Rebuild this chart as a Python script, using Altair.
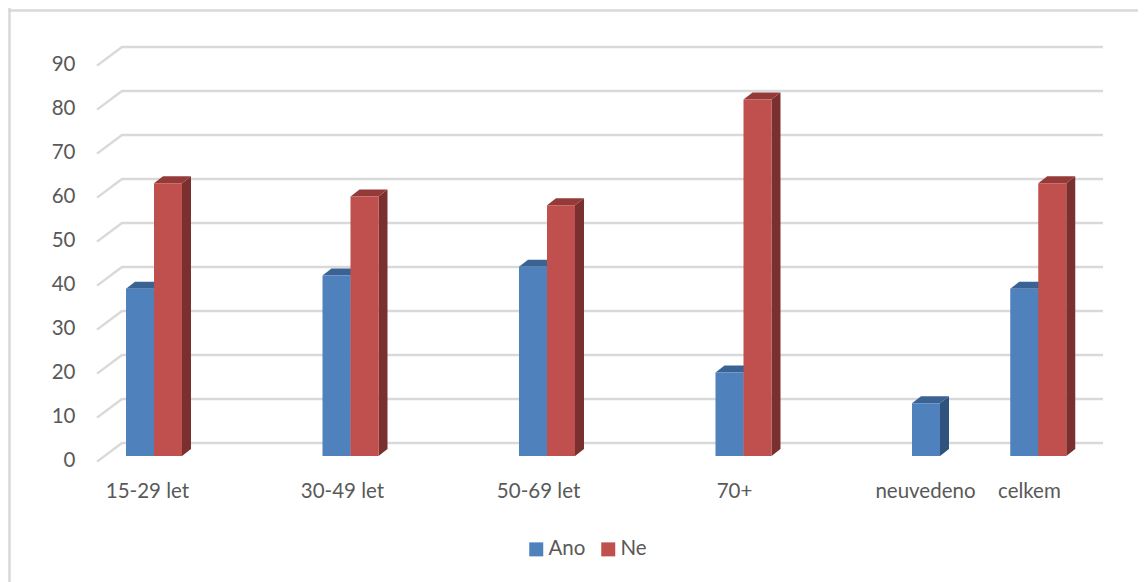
import json
import altair as alt
import pandas as pd

categories = ["15-29 let", "30-49 let", "50-69 let", "70+", "neuvedeno", "celkem"]
slots = [0, 1, 2, 3, 4, 4.5]
label_slots = [0.107, 1.099, 2.097, 3.094, 4.066, 4.595]
series = ["Ano", "Ne"]
ano = [38, 41, 43, 19, 12, 38]
ne = [62, 59, 57, 81, None, 62]
y_ticks = [0, 10, 20, 30, 40, 50, 60, 70, 80, 90]

front = ["#4F81BD", "#C0504D"]
side = ["#30527E", "#7A302E"]
top = ["#3A6292", "#943B39"]
GRID = "#D9D9D9"
TEXT = "#595959"
FONT = "Lato"
FS = 20.5

W, H = 1130, 574
SLOT_PX = 196.5
X0 = 118.0      # view x of slot 0 left edge
Y0 = 448.0      # view y of value 0, front of the bars
PX_V = 4.4      # px per unit
BW = 28 / SLOT_PX
DX = 9 / SLOT_PX
DV = 7 / PX_V
# floor/wall
WALL_L, WALL_R = (122 - 8 - X0) / SLOT_PX, (1103 - 8 - X0) / SLOT_PX
FRONT_L = (97 - 8 - X0) / SLOT_PX
WALL_DV = 13 / PX_V
FRONT_DV = -5.6 / PX_V

x_scale = alt.Scale(domain=[-X0 / SLOT_PX, (W - X0) / SLOT_PX], range=[0, W], nice=False, zero=False)
y_scale = alt.Scale(domain=[(Y0 - H) / PX_V, Y0 / PX_V], range=[H, 0], nice=False, zero=False)

rows, side_rows, top_rows = [], [], []
for si, (name, vals) in enumerate(zip(series, [ano, ne])):
    for cat, s, v in zip(categories, slots, vals):
        if v is None:
            continue
        l = s + si * BW
        r = l + BW
        bid = f"{name}-{cat}"
        rows.append(dict(series=name, category=cat, l=l, r=r, v=v, base=0, order=si))
        side_rows.append(dict(series=name, id=bid, x=r, y=0, y2=v, order=si))
        side_rows.append(dict(series=name, id=bid, x=r + DX, y=DV, y2=v + DV, order=si))
        top_rows.append(dict(series=name, id=bid, y=v, x=l, x2=r, order=si))
        top_rows.append(dict(series=name, id=bid, y=v + DV, x=l + DX, x2=r + DX, order=si))
bars, sides, tops = map(pd.DataFrame, (rows, side_rows, top_rows))

grid_rows = []
for t in y_ticks:
    grid_rows += [
        dict(tick=t, x=FRONT_L, y=t + FRONT_DV, o=0),
        dict(tick=t, x=WALL_L, y=t + WALL_DV, o=1),
        dict(tick=t, x=WALL_R, y=t + WALL_DV, o=2),
    ]
grid = pd.DataFrame(grid_rows)

xq = lambda f, **k: alt.X(f, type="quantitative", scale=x_scale, **k)
yq = lambda f, **k: alt.Y(f, type="quantitative", scale=y_scale, **k)

label_map = {str(s): c for s, c in zip(label_slots, categories)}
x_axis = alt.Axis(values=label_slots, labelExpr=f"{json.dumps(label_map)}[datum.value]",
                  title=None, domain=False, ticks=False, grid=False, labelPadding=0,
                  labelOverlap=False, labelFont=FONT, labelFontSize=FS, labelColor=TEXT,
                  labelAlign="center", labelBaseline="top", labelFlush=False, offset=-(H - 473))
y_axis = alt.Axis(values=y_ticks, title=None, domain=False, ticks=False, grid=False, labelPadding=0,
                  labelFont=FONT, labelFontSize=FS, labelColor=TEXT, labelAlign="right",
                  labelBaseline="middle", labelOffset=4, offset=-67, labelFlush=False, labelOverlap=False)

frame_l = alt.Chart(pd.DataFrame({"a": [0]})).mark_rule(color=GRID, strokeWidth=2.5).encode(
    x=alt.value(1.5), y=alt.value(0), y2=alt.value(H))
frame_t = alt.Chart(pd.DataFrame({"a": [0]})).mark_rule(color=GRID, strokeWidth=2.5).encode(
    x=alt.value(0), x2=alt.value(W), y=alt.value(2.5))

grid_layer = alt.Chart(grid).mark_line(color=GRID, strokeWidth=2.4, strokeJoin="miter").encode(
    x=xq("x", axis=x_axis),
    y=yq("y", axis=y_axis),
    detail="tick:N",
    order="o:Q",
)


def color(rng, legend=None):
    return alt.Color("series:N", scale=alt.Scale(domain=series, range=rng), legend=legend)


layers = [frame_l, frame_t, grid_layer]
legend = alt.Legend(title=None, orient="none", legendX=518, legendY=531, direction="horizontal",
                    columns=2, symbolType="square", symbolSize=196, symbolStrokeWidth=0, symbolOpacity=1,
                    labelFont=FONT, labelFontSize=FS, labelColor=TEXT, columnPadding=12,
                    labelOffset=2, padding=0)
for name in series:
    s_d = sides[sides.series == name]
    t_d = tops[tops.series == name]
    b_d = bars[bars.series == name]
    layers.append(alt.Chart(s_d).mark_area(interpolate="linear", orient="vertical").encode(
        x=xq("x"), y=yq("y"), y2="y2:Q", detail="id:N", color=color(side)))
    layers.append(alt.Chart(t_d).mark_area(interpolate="linear", orient="horizontal").encode(
        y=yq("y"), x=xq("x"), x2="x2:Q", detail="id:N", color=color(top)))
    layers.append(alt.Chart(b_d).mark_rect().encode(
        x=xq("l"), x2="r:Q", y=yq("base"), y2="v:Q",
        color=color(front, legend if name == "Ano" else None)))

chart = alt.layer(*layers).resolve_scale(color="independent").properties(
    width=W, height=H, padding=0, autosize=alt.AutoSizeParams(type="none"), background="white"
).configure_view(stroke=None)

chart.save("out.html", embed_options={"renderer": "svg", "actions": False})
